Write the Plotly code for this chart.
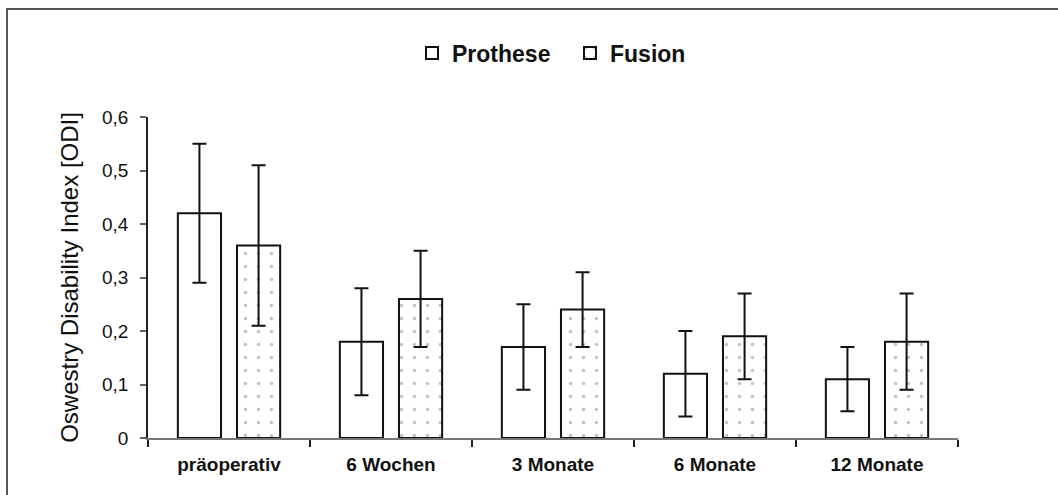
import plotly.graph_objects as go

categories = ["präoperativ", "6 Wochen", "3 Monate", "6 Monate", "12 Monate"]
prothese = [0.42, 0.18, 0.17, 0.12, 0.11]
prothese_err = [0.13, 0.10, 0.08, 0.08, 0.06]
fusion = [0.36, 0.26, 0.24, 0.19, 0.18]
fusion_err = [0.15, 0.09, 0.07, 0.08, 0.09]
y_ticks = [0, 0.1, 0.2, 0.3, 0.4, 0.5, 0.6]
y_tick_labels = ["0", "0,1", "0,2", "0,3", "0,4", "0,5", "0,6"]

W, H = 1058, 495
L, R, T, B = 148, 100, 117, 57
PW, PH = W - L - R, H - T - B

fig = go.Figure()
fig.add_trace(go.Bar(
    name="Prothese", x=categories, y=prothese,
    marker=dict(color="white", line=dict(color="#111", width=2)),
    error_y=dict(type="data", array=prothese_err, color="#111", thickness=2, width=7),
))
fig.add_trace(go.Bar(
    name="Fusion", x=categories, y=fusion,
    marker=dict(color="white", line=dict(color="#111", width=2),
                pattern=dict(shape=".", fgcolor="#888", bgcolor="white", size=13, solidity=0.06)),
    error_y=dict(type="data", array=fusion_err, color="#111", thickness=2, width=7),
))

fig.update_layout(
    width=W, height=H,
    margin=dict(l=L, r=R, t=T, b=B),
    paper_bgcolor="white", plot_bgcolor="white",
    barmode="group", bargap=0.27, bargroupgap=0.27,
    font=dict(family="Liberation Sans, Arial, sans-serif", color="#111"),
    showlegend=True,
    legend=dict(orientation="h", x=(412 - L) / PW, xanchor="left",
                y=1 + (T - 53) / PH, yanchor="middle",
                font=dict(size=23, family="Liberation Sans, Arial, sans-serif", weight="bold"),
                entrywidth=113, tracegroupgap=0),
    xaxis=dict(
        showline=True, linecolor="#777", linewidth=2,
        ticks="outside", tickson="boundaries", ticklen=7, tickcolor="#222", tickwidth=1.5,
        tickfont=dict(size=19, family="Liberation Sans, Arial, sans-serif", weight="bold"),
        ticklabelstandoff=8,
        showgrid=False,
    ),
    yaxis=dict(
        range=[0, 0.6], tickvals=y_ticks, ticktext=y_tick_labels,
        showline=True, linecolor="#222", linewidth=1.5,
        ticks="outside", ticklen=6, tickcolor="#666", tickwidth=1.5,
        tickfont=dict(size=19), ticklabelstandoff=8,
        showgrid=False, zeroline=False,
        title=dict(text="Oswestry Disability Index [ODI]", font=dict(size=24), standoff=17),
    ),
    shapes=[dict(type="rect", xref="paper", yref="paper",
                 x0=(7 - L) / PW, x1=1.2, y0=-0.5, y1=1 + (T - 9) / PH,
                 line=dict(color="#555", width=2), fillcolor="rgba(0,0,0,0)", layer="below")],
)

fig.write_html("out.html", config={"displayModeBar": False},
               post_script="document.body.style.margin='0';document.body.style.overflow='hidden';")
